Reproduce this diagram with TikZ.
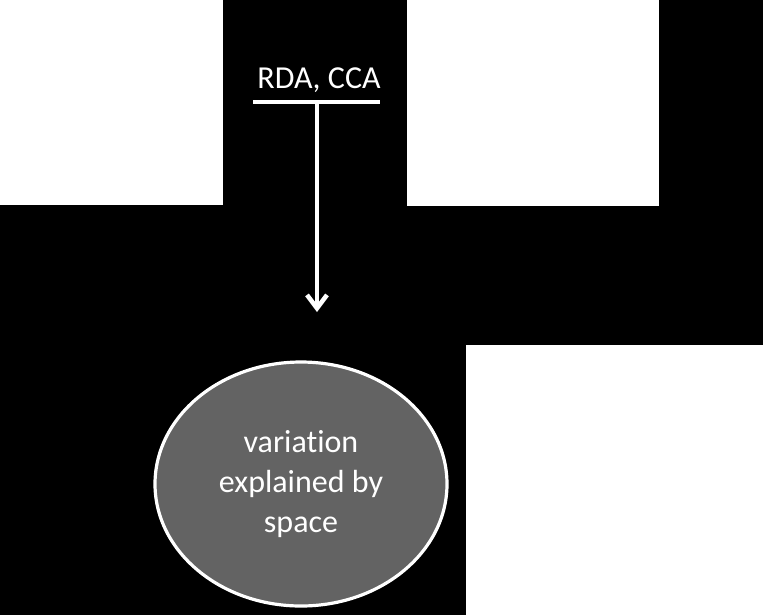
\documentclass[tikz,border=0pt]{standalone}
\usepackage{fontspec}
\setmainfont[Ligatures=NoCommon]{Carlito}
\usetikzlibrary{arrows.meta,positioning,shapes.geometric}

\begin{document}
\begin{tikzpicture}[
    x=0.75pt, y=-0.75pt,
    panel/.style={rectangle, fill=white, inner sep=0pt, anchor=north west},
    blob/.style={ellipse, draw=white, line width=2.4pt, fill=black!61, text=white,
        minimum width=219pt, minimum height=183pt, align=center,
        font=\fontsize{24}{30}\selectfont},
    label/.style={text=white, font=\fontsize{24}{30}\selectfont, inner sep=0pt},
    bar/.style={draw=white, line width=3.4pt},
    arrow/.style={bar, -{Straight Barb[length=10pt, width=15pt]}}
]
    % Background
    \fill[black] (0,0) rectangle (763,615);
    \useasboundingbox (0,0) rectangle (763,615);

    % Panels
    \node[panel, minimum width=167.25pt, minimum height=153.75pt] (left) at (0,0) {};
    \node[panel, minimum width=189pt, minimum height=154.5pt] (right) at (407,0) {};
    \node[panel, minimum width=222.75pt, minimum height=202.5pt] (lower) at (466,345) {};

    % Method label
    \node[label, anchor=base] (method) at (319,88) {RDA, CCA};
    \coordinate (barL) at (253,102);
    \coordinate (barR) at (380,102);
    \coordinate (barM) at (317,102);
    \coordinate (tip) at (317,312);

    % Result
    \node[blob] (space) at (301,484) {variation\\explained by\\space};

    % Arrows
    \draw[bar] (barL) -- (barR);
    \draw[arrow] (barM) -- (tip);

\end{tikzpicture}
\end{document}
